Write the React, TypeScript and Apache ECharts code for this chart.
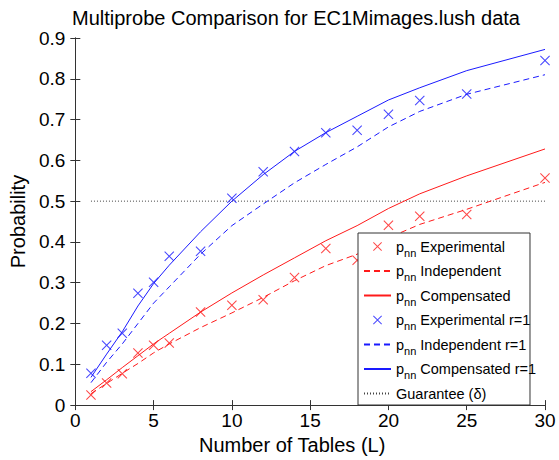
import React, { useEffect, useRef } from "react";
import * as echarts from "echarts";

// Number of hash tables L
const tables = [1, 2, 3, 4, 5, 6, 8, 10, 12, 14, 16, 18, 20, 22, 25, 30];

// Default multiprobe
const expDefault = [0.025, 0.054, 0.077, 0.128, 0.147, 0.152, 0.228, 0.245, 0.258, 0.313, 0.384, 0.355, 0.441, 0.463, 0.467, 0.557];
const indDefault = [0.028, 0.053, 0.078, 0.102, 0.128, 0.15, 0.19, 0.226, 0.264, 0.305, 0.342, 0.37, 0.41, 0.443, 0.48, 0.546];
const compDefault = [0.033, 0.062, 0.092, 0.121, 0.15, 0.176, 0.228, 0.275, 0.319, 0.361, 0.403, 0.44, 0.482, 0.518, 0.562, 0.628];

// Multiprobe with r = 1
const expR1 = [0.078, 0.147, 0.176, 0.274, 0.301, 0.365, 0.377, 0.507, 0.572, 0.622, 0.668, 0.674, 0.713, 0.747, 0.763, 0.845];
const indR1 = [0.055, 0.105, 0.15, 0.2, 0.25, 0.29, 0.37, 0.44, 0.493, 0.545, 0.59, 0.633, 0.682, 0.72, 0.762, 0.81];
const compR1 = [0.068, 0.125, 0.18, 0.243, 0.298, 0.343, 0.425, 0.5, 0.565, 0.622, 0.668, 0.708, 0.748, 0.778, 0.82, 0.872];

// Guarantee level delta
const guaranteeX = [1, 30];
const guaranteeY = 0.5;

const xTicks = { min: 0, max: 30, interval: 5 };
const yTicks = { min: 0, max: 0.9, interval: 0.1 };

const RED = "#ff1a1a";
const BLUE = "#1a1aff";
const GREY = "#444";
const FONT = "'Liberation Sans', Arial, Helvetica, sans-serif";
// thin filled "x" so the marker takes the series colour as its fill
const CROSS =
  "path://M0,0.75L0.75,0L5,4.25L9.25,0L10,0.75L5.75,5L10,9.25L9.25,10L5,5.75L0.75,10L0,9.25L4.25,5Z";

const pairs = (ys: number[]) => tables.map((x, i) => [x, ys[i]]);

const names = {
  exp: "{p|p}{s|nn} Experimental",
  ind: "{p|p}{s|nn} Independent",
  comp: "{p|p}{s|nn} Compensated",
  exp1: "{p|p}{s|nn} Experimental r=1",
  ind1: "{p|p}{s|nn} Independent r=1",
  comp1: "{p|p}{s|nn} Compensated r=1",
  guar: "Guarantee (\u03b4)",
};

const scatter = (name: string, ys: number[], color: string) => ({
  name,
  type: "scatter",
  data: pairs(ys),
  symbol: CROSS,
  symbolSize: 10,
  color,
  itemStyle: { color, borderWidth: 0 },
  z: 3,
});

const line = (name: string, ys: number[], color: string, dashed: boolean) => ({
  name,
  type: "line",
  data: pairs(ys),
  symbol: "none",
  color,
  lineStyle: { color, width: 1, type: dashed ? [6, 4] : "solid" },
  z: 2,
});

// legend entries: crosses for measured points, bare strokes for curves
const crossItem = (name: string, color: string) => ({
  name,
  icon: CROSS,
  itemStyle: { color, borderWidth: 0 },
});
const lineItem = (name: string) => ({
  name,
  itemStyle: { color: "transparent", borderColor: "transparent", borderWidth: 0, opacity: 0 },
});

const axisCommon = {
  axisLine: { show: true, lineStyle: { color: "#333", width: 1 } },
  axisTick: { show: true, inside: true, length: 5, lineStyle: { color: "#333" } },
  splitLine: { show: false },
};

export default function App() {
  const ref = useRef<HTMLDivElement>(null);

  useEffect(() => {
    if (!ref.current) return;
    const chart = echarts.init(ref.current, undefined, { renderer: "svg" });
    chart.setOption({
      animation: false,
      backgroundColor: "#fff",
      textStyle: { fontFamily: FONT },
      title: {
        text: "Multiprobe Comparison for EC1Mimages.lush data",
        left: 72,
        top: 8,
        padding: 0,
        textStyle: { fontSize: 20, fontWeight: "normal", color: "#000", fontFamily: FONT },
      },
      grid: { left: 67, right: 14, top: 38, bottom: 50, containLabel: false },
      xAxis: [
        {
          type: "value",
          ...xTicks,
          name: "Number of Tables (L)",
          nameLocation: "middle",
          nameGap: 20,
          nameTextStyle: { fontSize: 20, color: "#000", fontFamily: FONT, padding: [0, 36, 0, 0] },
          axisLabel: { fontSize: 19, color: "#000", margin: 6, fontFamily: FONT },
          ...axisCommon,
        },
        {
          type: "value",
          position: "top",
          ...xTicks,
          axisLabel: { show: false },
          ...axisCommon,
        },
      ],
      yAxis: [
        {
          type: "value",
          ...yTicks,
          name: "Probability",
          nameLocation: "middle",
          nameGap: 40,
          nameTextStyle: { fontSize: 20, color: "#000", fontFamily: FONT },
          axisLabel: { fontSize: 19, color: "#000", margin: 10, fontFamily: FONT },
          ...axisCommon,
        },
        {
          type: "value",
          position: "right",
          ...yTicks,
          axisLabel: { show: false },
          ...axisCommon,
        },
      ],
      legend: {
        orient: "vertical",
        left: 358,
        top: 233,
        itemWidth: 27,
        itemHeight: 9,
        itemGap: 1.5,
        padding: [2, -6, 0, 5],
        backgroundColor: "#fff",
        borderColor: "#333",
        borderWidth: 1,
        borderRadius: 0,
        textStyle: {
          fontSize: 14.5,
          color: "#000",
          fontFamily: FONT,
          lineHeight: 23,
          rich: {
            p: { fontSize: 14.5, fontFamily: FONT, color: "#000" },
            s: {
              fontSize: 11,
              fontFamily: FONT,
              color: "#000",
              lineHeight: 13,
              verticalAlign: "bottom",
              padding: [10, 0, 0, 0],
            },
          },
        },
        data: [
          crossItem(names.exp, RED),
          lineItem(names.ind),
          lineItem(names.comp),
          crossItem(names.exp1, BLUE),
          lineItem(names.ind1),
          lineItem(names.comp1),
          lineItem(names.guar),
        ],
      },
      series: [
        scatter(names.exp, expDefault, RED),
        line(names.ind, indDefault, RED, true),
        line(names.comp, compDefault, RED, false),
        scatter(names.exp1, expR1, BLUE),
        line(names.ind1, indR1, BLUE, true),
        line(names.comp1, compR1, BLUE, false),
        {
          name: names.guar,
          type: "line",
          data: guaranteeX.map((x) => [x, guaranteeY]),
          symbol: "none",
          color: GREY,
          lineStyle: { color: GREY, width: 1, type: [1, 2] },
          z: 1,
        },
      ],
    });
    return () => chart.dispose();
  }, []);

  return (
    <div
      ref={ref}
      style={{ position: "fixed", left: 0, top: 0, width: 559, height: 460 }}
    />
  );
}
